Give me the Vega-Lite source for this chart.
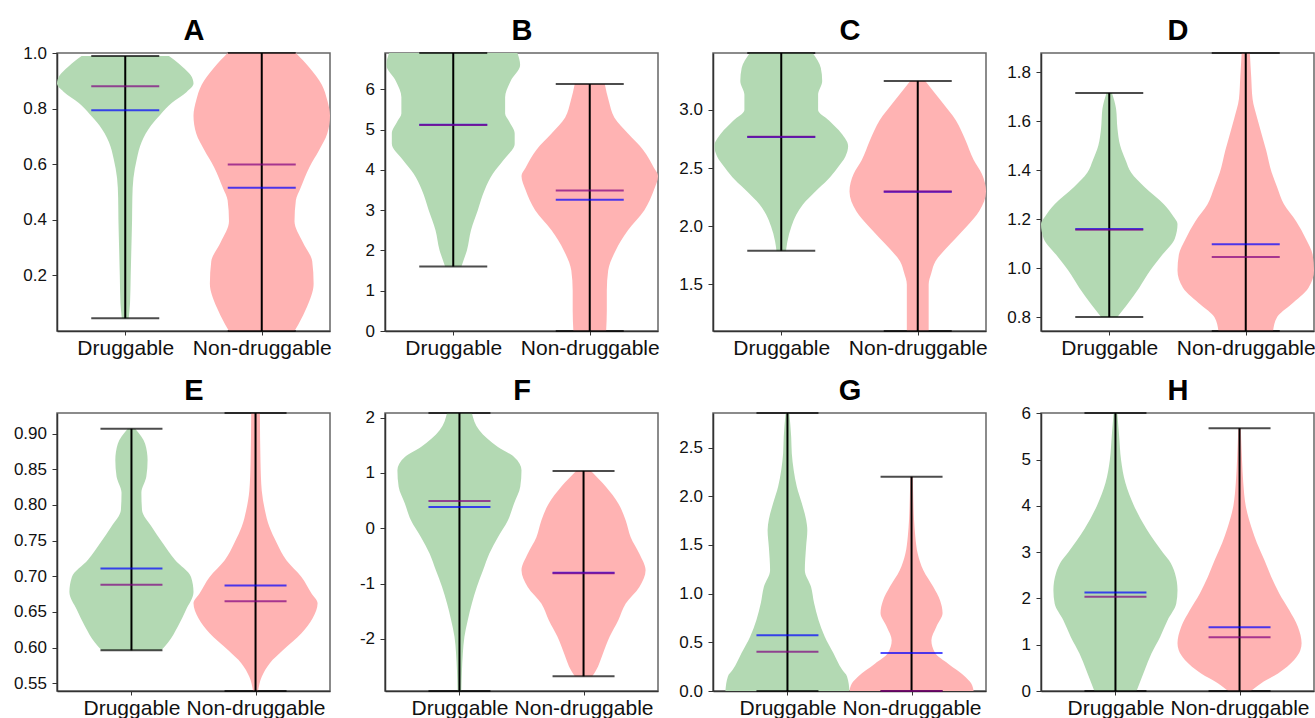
{
"$schema": "https://vega.github.io/schema/vega-lite/v6.json",
"background": "white",
"padding": {"left": 12, "top": 15, "right": 0, "bottom": 0},
"columns": 4,
"spacing": {"row": 82, "column": 55},
"bounds": "flush",
"datasets": {
"violins": [
{"p":"A","g":"Druggable","y":0.046,"lo":0.975,"hi":1.025},
{"p":"A","g":"Druggable","y":0.10,"lo":0.965,"hi":1.035},
{"p":"A","g":"Druggable","y":0.20,"lo":0.96,"hi":1.04},
{"p":"A","g":"Druggable","y":0.30,"lo":0.955,"hi":1.045},
{"p":"A","g":"Druggable","y":0.40,"lo":0.95,"hi":1.05},
{"p":"A","g":"Druggable","y":0.48,"lo":0.948,"hi":1.052},
{"p":"A","g":"Druggable","y":0.55,"lo":0.94,"hi":1.06},
{"p":"A","g":"Druggable","y":0.62,"lo":0.915,"hi":1.085},
{"p":"A","g":"Druggable","y":0.68,"lo":0.88,"hi":1.12},
{"p":"A","g":"Druggable","y":0.74,"lo":0.81,"hi":1.19},
{"p":"A","g":"Druggable","y":0.78,"lo":0.74,"hi":1.26},
{"p":"A","g":"Druggable","y":0.82,"lo":0.66,"hi":1.34},
{"p":"A","g":"Druggable","y":0.86,"lo":0.55,"hi":1.45},
{"p":"A","g":"Druggable","y":0.89,"lo":0.50,"hi":1.50},
{"p":"A","g":"Druggable","y":0.92,"lo":0.52,"hi":1.48},
{"p":"A","g":"Druggable","y":0.95,"lo":0.58,"hi":1.42},
{"p":"A","g":"Druggable","y":0.975,"lo":0.64,"hi":1.36},
{"p":"A","g":"Druggable","y":0.989,"lo":0.68,"hi":1.32},
{"p":"A","g":"Non-druggable","y":0.0,"lo":1.76,"hi":2.24},
{"p":"A","g":"Non-druggable","y":0.025,"lo":1.73,"hi":2.27},
{"p":"A","g":"Non-druggable","y":0.085,"lo":1.67,"hi":2.33},
{"p":"A","g":"Non-druggable","y":0.17,"lo":1.62,"hi":2.38},
{"p":"A","g":"Non-druggable","y":0.25,"lo":1.63,"hi":2.37},
{"p":"A","g":"Non-druggable","y":0.32,"lo":1.70,"hi":2.30},
{"p":"A","g":"Non-druggable","y":0.395,"lo":1.76,"hi":2.24},
{"p":"A","g":"Non-druggable","y":0.47,"lo":1.75,"hi":2.25},
{"p":"A","g":"Non-druggable","y":0.515,"lo":1.715,"hi":2.285},
{"p":"A","g":"Non-druggable","y":0.59,"lo":1.65,"hi":2.35},
{"p":"A","g":"Non-druggable","y":0.65,"lo":1.58,"hi":2.42},
{"p":"A","g":"Non-druggable","y":0.71,"lo":1.52,"hi":2.48},
{"p":"A","g":"Non-druggable","y":0.775,"lo":1.50,"hi":2.50},
{"p":"A","g":"Non-druggable","y":0.83,"lo":1.52,"hi":2.48},
{"p":"A","g":"Non-druggable","y":0.886,"lo":1.56,"hi":2.44},
{"p":"A","g":"Non-druggable","y":0.947,"lo":1.65,"hi":2.35},
{"p":"A","g":"Non-druggable","y":1.0,"lo":1.75,"hi":2.25},
{"p":"B","g":"Druggable","y":1.6,"lo":0.94,"hi":1.06},
{"p":"B","g":"Druggable","y":1.75,"lo":0.925,"hi":1.075},
{"p":"B","g":"Druggable","y":2.0,"lo":0.90,"hi":1.10},
{"p":"B","g":"Druggable","y":2.5,"lo":0.87,"hi":1.13},
{"p":"B","g":"Druggable","y":3.0,"lo":0.82,"hi":1.18},
{"p":"B","g":"Druggable","y":3.5,"lo":0.77,"hi":1.23},
{"p":"B","g":"Druggable","y":3.9,"lo":0.71,"hi":1.29},
{"p":"B","g":"Druggable","y":4.25,"lo":0.63,"hi":1.37},
{"p":"B","g":"Druggable","y":4.65,"lo":0.55,"hi":1.45},
{"p":"B","g":"Druggable","y":4.9,"lo":0.55,"hi":1.45},
{"p":"B","g":"Druggable","y":5.2,"lo":0.59,"hi":1.41},
{"p":"B","g":"Druggable","y":5.4,"lo":0.62,"hi":1.38},
{"p":"B","g":"Druggable","y":5.8,"lo":0.62,"hi":1.38},
{"p":"B","g":"Druggable","y":6.2,"lo":0.58,"hi":1.42},
{"p":"B","g":"Druggable","y":6.6,"lo":0.51,"hi":1.49},
{"p":"B","g":"Druggable","y":6.9,"lo":0.53,"hi":1.47},
{"p":"B","g":"Non-druggable","y":0.0,"lo":1.88,"hi":2.12},
{"p":"B","g":"Non-druggable","y":0.5,"lo":1.875,"hi":2.125},
{"p":"B","g":"Non-druggable","y":1.0,"lo":1.875,"hi":2.125},
{"p":"B","g":"Non-druggable","y":1.5,"lo":1.865,"hi":2.135},
{"p":"B","g":"Non-druggable","y":2.0,"lo":1.81,"hi":2.19},
{"p":"B","g":"Non-druggable","y":2.5,"lo":1.72,"hi":2.28},
{"p":"B","g":"Non-druggable","y":3.0,"lo":1.60,"hi":2.40},
{"p":"B","g":"Non-druggable","y":3.5,"lo":1.53,"hi":2.47},
{"p":"B","g":"Non-druggable","y":3.85,"lo":1.50,"hi":2.50},
{"p":"B","g":"Non-druggable","y":4.05,"lo":1.53,"hi":2.47},
{"p":"B","g":"Non-druggable","y":4.5,"lo":1.61,"hi":2.39},
{"p":"B","g":"Non-druggable","y":4.9,"lo":1.72,"hi":2.28},
{"p":"B","g":"Non-druggable","y":5.3,"lo":1.82,"hi":2.18},
{"p":"B","g":"Non-druggable","y":5.7,"lo":1.86,"hi":2.14},
{"p":"B","g":"Non-druggable","y":6.13,"lo":1.89,"hi":2.11},
{"p":"C","g":"Druggable","y":1.79,"lo":0.965,"hi":1.035},
{"p":"C","g":"Druggable","y":1.87,"lo":0.955,"hi":1.045},
{"p":"C","g":"Druggable","y":2.0,"lo":0.925,"hi":1.075},
{"p":"C","g":"Druggable","y":2.1,"lo":0.89,"hi":1.11},
{"p":"C","g":"Druggable","y":2.19,"lo":0.84,"hi":1.16},
{"p":"C","g":"Druggable","y":2.3,"lo":0.75,"hi":1.25},
{"p":"C","g":"Druggable","y":2.4,"lo":0.66,"hi":1.34},
{"p":"C","g":"Druggable","y":2.5,"lo":0.59,"hi":1.41},
{"p":"C","g":"Druggable","y":2.6,"lo":0.53,"hi":1.47},
{"p":"C","g":"Druggable","y":2.69,"lo":0.51,"hi":1.49},
{"p":"C","g":"Druggable","y":2.8,"lo":0.56,"hi":1.44},
{"p":"C","g":"Druggable","y":2.91,"lo":0.65,"hi":1.35},
{"p":"C","g":"Druggable","y":3.0,"lo":0.73,"hi":1.27},
{"p":"C","g":"Druggable","y":3.13,"lo":0.73,"hi":1.27},
{"p":"C","g":"Druggable","y":3.25,"lo":0.70,"hi":1.30},
{"p":"C","g":"Druggable","y":3.36,"lo":0.71,"hi":1.29},
{"p":"C","g":"Druggable","y":3.49,"lo":0.77,"hi":1.23},
{"p":"C","g":"Non-druggable","y":1.1,"lo":1.92,"hi":2.08},
{"p":"C","g":"Non-druggable","y":1.3,"lo":1.92,"hi":2.08},
{"p":"C","g":"Non-druggable","y":1.5,"lo":1.92,"hi":2.08},
{"p":"C","g":"Non-druggable","y":1.6,"lo":1.90,"hi":2.10},
{"p":"C","g":"Non-druggable","y":1.7,"lo":1.87,"hi":2.13},
{"p":"C","g":"Non-druggable","y":1.8,"lo":1.80,"hi":2.20},
{"p":"C","g":"Non-druggable","y":1.9,"lo":1.72,"hi":2.28},
{"p":"C","g":"Non-druggable","y":2.0,"lo":1.64,"hi":2.36},
{"p":"C","g":"Non-druggable","y":2.13,"lo":1.55,"hi":2.45},
{"p":"C","g":"Non-druggable","y":2.3,"lo":1.50,"hi":2.50},
{"p":"C","g":"Non-druggable","y":2.45,"lo":1.53,"hi":2.47},
{"p":"C","g":"Non-druggable","y":2.57,"lo":1.59,"hi":2.41},
{"p":"C","g":"Non-druggable","y":2.74,"lo":1.65,"hi":2.35},
{"p":"C","g":"Non-druggable","y":2.91,"lo":1.72,"hi":2.28},
{"p":"C","g":"Non-druggable","y":3.08,"lo":1.83,"hi":2.17},
{"p":"C","g":"Non-druggable","y":3.25,"lo":1.945,"hi":2.055},
{"p":"D","g":"Druggable","y":0.80,"lo":0.94,"hi":1.06},
{"p":"D","g":"Druggable","y":0.85,"lo":0.87,"hi":1.13},
{"p":"D","g":"Druggable","y":0.92,"lo":0.78,"hi":1.22},
{"p":"D","g":"Druggable","y":0.99,"lo":0.70,"hi":1.30},
{"p":"D","g":"Druggable","y":1.055,"lo":0.61,"hi":1.39},
{"p":"D","g":"Druggable","y":1.12,"lo":0.52,"hi":1.48},
{"p":"D","g":"Druggable","y":1.18,"lo":0.50,"hi":1.50},
{"p":"D","g":"Druggable","y":1.21,"lo":0.53,"hi":1.47},
{"p":"D","g":"Druggable","y":1.26,"lo":0.60,"hi":1.40},
{"p":"D","g":"Druggable","y":1.33,"lo":0.74,"hi":1.26},
{"p":"D","g":"Druggable","y":1.39,"lo":0.84,"hi":1.16},
{"p":"D","g":"Druggable","y":1.44,"lo":0.88,"hi":1.12},
{"p":"D","g":"Druggable","y":1.5,"lo":0.92,"hi":1.08},
{"p":"D","g":"Druggable","y":1.57,"lo":0.94,"hi":1.06},
{"p":"D","g":"Druggable","y":1.65,"lo":0.95,"hi":1.05},
{"p":"D","g":"Druggable","y":1.715,"lo":0.98,"hi":1.02},
{"p":"D","g":"Non-druggable","y":0.743,"lo":1.80,"hi":2.20},
{"p":"D","g":"Non-druggable","y":0.80,"lo":1.77,"hi":2.23},
{"p":"D","g":"Non-druggable","y":0.85,"lo":1.67,"hi":2.33},
{"p":"D","g":"Non-druggable","y":0.92,"lo":1.54,"hi":2.46},
{"p":"D","g":"Non-druggable","y":0.99,"lo":1.50,"hi":2.50},
{"p":"D","g":"Non-druggable","y":1.055,"lo":1.51,"hi":2.49},
{"p":"D","g":"Non-druggable","y":1.12,"lo":1.56,"hi":2.44},
{"p":"D","g":"Non-druggable","y":1.19,"lo":1.63,"hi":2.37},
{"p":"D","g":"Non-druggable","y":1.26,"lo":1.72,"hi":2.28},
{"p":"D","g":"Non-druggable","y":1.33,"lo":1.77,"hi":2.23},
{"p":"D","g":"Non-druggable","y":1.39,"lo":1.81,"hi":2.19},
{"p":"D","g":"Non-druggable","y":1.48,"lo":1.85,"hi":2.15},
{"p":"D","g":"Non-druggable","y":1.61,"lo":1.915,"hi":2.085},
{"p":"D","g":"Non-druggable","y":1.69,"lo":1.95,"hi":2.05},
{"p":"D","g":"Non-druggable","y":1.78,"lo":1.96,"hi":2.04},
{"p":"D","g":"Non-druggable","y":1.878,"lo":1.97,"hi":2.03},
{"p":"E","g":"Druggable","y":0.596,"lo":0.76,"hi":1.24},
{"p":"E","g":"Druggable","y":0.607,"lo":0.705,"hi":1.295},
{"p":"E","g":"Druggable","y":0.63,"lo":0.625,"hi":1.375},
{"p":"E","g":"Druggable","y":0.653,"lo":0.56,"hi":1.44},
{"p":"E","g":"Druggable","y":0.678,"lo":0.50,"hi":1.50},
{"p":"E","g":"Druggable","y":0.699,"lo":0.52,"hi":1.48},
{"p":"E","g":"Druggable","y":0.723,"lo":0.65,"hi":1.35},
{"p":"E","g":"Druggable","y":0.747,"lo":0.75,"hi":1.25},
{"p":"E","g":"Druggable","y":0.77,"lo":0.84,"hi":1.16},
{"p":"E","g":"Druggable","y":0.793,"lo":0.915,"hi":1.085},
{"p":"E","g":"Druggable","y":0.817,"lo":0.92,"hi":1.08},
{"p":"E","g":"Druggable","y":0.84,"lo":0.88,"hi":1.12},
{"p":"E","g":"Druggable","y":0.863,"lo":0.87,"hi":1.13},
{"p":"E","g":"Druggable","y":0.886,"lo":0.89,"hi":1.11},
{"p":"E","g":"Druggable","y":0.907,"lo":0.97,"hi":1.03},
{"p":"E","g":"Non-druggable","y":0.539,"lo":1.98,"hi":2.02},
{"p":"E","g":"Non-druggable","y":0.559,"lo":1.95,"hi":2.05},
{"p":"E","g":"Non-druggable","y":0.578,"lo":1.885,"hi":2.115},
{"p":"E","g":"Non-druggable","y":0.596,"lo":1.78,"hi":2.22},
{"p":"E","g":"Non-druggable","y":0.62,"lo":1.63,"hi":2.37},
{"p":"E","g":"Non-druggable","y":0.641,"lo":1.54,"hi":2.46},
{"p":"E","g":"Non-druggable","y":0.662,"lo":1.50,"hi":2.50},
{"p":"E","g":"Non-druggable","y":0.676,"lo":1.55,"hi":2.45},
{"p":"E","g":"Non-druggable","y":0.699,"lo":1.63,"hi":2.37},
{"p":"E","g":"Non-druggable","y":0.722,"lo":1.75,"hi":2.25},
{"p":"E","g":"Non-druggable","y":0.747,"lo":1.83,"hi":2.17},
{"p":"E","g":"Non-druggable","y":0.77,"lo":1.89,"hi":2.11},
{"p":"E","g":"Non-druggable","y":0.793,"lo":1.925,"hi":2.075},
{"p":"E","g":"Non-druggable","y":0.82,"lo":1.95,"hi":2.05},
{"p":"E","g":"Non-druggable","y":0.86,"lo":1.96,"hi":2.04},
{"p":"E","g":"Non-druggable","y":0.929,"lo":1.965,"hi":2.035},
{"p":"F","g":"Druggable","y":-2.94,"lo":0.985,"hi":1.015},
{"p":"F","g":"Druggable","y":-2.57,"lo":0.98,"hi":1.02},
{"p":"F","g":"Druggable","y":-2.27,"lo":0.973,"hi":1.027},
{"p":"F","g":"Druggable","y":-1.96,"lo":0.96,"hi":1.04},
{"p":"F","g":"Druggable","y":-1.66,"lo":0.933,"hi":1.067},
{"p":"F","g":"Druggable","y":-1.36,"lo":0.90,"hi":1.10},
{"p":"F","g":"Druggable","y":-1.06,"lo":0.86,"hi":1.14},
{"p":"F","g":"Druggable","y":-0.76,"lo":0.81,"hi":1.19},
{"p":"F","g":"Druggable","y":-0.46,"lo":0.76,"hi":1.24},
{"p":"F","g":"Druggable","y":-0.16,"lo":0.69,"hi":1.31},
{"p":"F","g":"Druggable","y":0.14,"lo":0.61,"hi":1.39},
{"p":"F","g":"Druggable","y":0.45,"lo":0.56,"hi":1.44},
{"p":"F","g":"Druggable","y":0.75,"lo":0.51,"hi":1.49},
{"p":"F","g":"Druggable","y":1.05,"lo":0.50,"hi":1.50},
{"p":"F","g":"Druggable","y":1.29,"lo":0.56,"hi":1.44},
{"p":"F","g":"Druggable","y":1.47,"lo":0.69,"hi":1.31},
{"p":"F","g":"Druggable","y":1.77,"lo":0.84,"hi":1.16},
{"p":"F","g":"Druggable","y":2.083,"lo":0.90,"hi":1.10},
{"p":"F","g":"Non-druggable","y":-2.675,"lo":1.93,"hi":2.07},
{"p":"F","g":"Non-druggable","y":-2.57,"lo":1.90,"hi":2.10},
{"p":"F","g":"Non-druggable","y":-2.27,"lo":1.845,"hi":2.155},
{"p":"F","g":"Non-druggable","y":-1.96,"lo":1.79,"hi":2.21},
{"p":"F","g":"Non-druggable","y":-1.66,"lo":1.72,"hi":2.28},
{"p":"F","g":"Non-druggable","y":-1.36,"lo":1.66,"hi":2.34},
{"p":"F","g":"Non-druggable","y":-1.06,"lo":1.55,"hi":2.45},
{"p":"F","g":"Non-druggable","y":-0.76,"lo":1.50,"hi":2.50},
{"p":"F","g":"Non-druggable","y":-0.46,"lo":1.55,"hi":2.45},
{"p":"F","g":"Non-druggable","y":-0.16,"lo":1.62,"hi":2.38},
{"p":"F","g":"Non-druggable","y":0.14,"lo":1.66,"hi":2.34},
{"p":"F","g":"Non-druggable","y":0.45,"lo":1.72,"hi":2.28},
{"p":"F","g":"Non-druggable","y":0.75,"lo":1.82,"hi":2.18},
{"p":"F","g":"Non-druggable","y":1.036,"lo":1.94,"hi":2.06},
{"p":"G","g":"Druggable","y":0.0,"lo":0.50,"hi":1.50},
{"p":"G","g":"Druggable","y":0.15,"lo":0.52,"hi":1.48},
{"p":"G","g":"Druggable","y":0.22,"lo":0.56,"hi":1.44},
{"p":"G","g":"Druggable","y":0.39,"lo":0.63,"hi":1.37},
{"p":"G","g":"Druggable","y":0.56,"lo":0.70,"hi":1.30},
{"p":"G","g":"Druggable","y":0.73,"lo":0.75,"hi":1.25},
{"p":"G","g":"Druggable","y":0.90,"lo":0.785,"hi":1.215},
{"p":"G","g":"Druggable","y":1.07,"lo":0.81,"hi":1.19},
{"p":"G","g":"Druggable","y":1.24,"lo":0.86,"hi":1.14},
{"p":"G","g":"Druggable","y":1.48,"lo":0.85,"hi":1.15},
{"p":"G","g":"Druggable","y":1.65,"lo":0.84,"hi":1.16},
{"p":"G","g":"Druggable","y":1.76,"lo":0.85,"hi":1.15},
{"p":"G","g":"Druggable","y":1.93,"lo":0.885,"hi":1.115},
{"p":"G","g":"Druggable","y":2.10,"lo":0.925,"hi":1.075},
{"p":"G","g":"Druggable","y":2.27,"lo":0.95,"hi":1.05},
{"p":"G","g":"Druggable","y":2.44,"lo":0.965,"hi":1.035},
{"p":"G","g":"Druggable","y":2.61,"lo":0.97,"hi":1.03},
{"p":"G","g":"Druggable","y":2.855,"lo":0.985,"hi":1.015},
{"p":"G","g":"Non-druggable","y":0.0,"lo":1.50,"hi":2.50},
{"p":"G","g":"Non-druggable","y":0.08,"lo":1.52,"hi":2.48},
{"p":"G","g":"Non-druggable","y":0.15,"lo":1.57,"hi":2.43},
{"p":"G","g":"Non-druggable","y":0.28,"lo":1.705,"hi":2.295},
{"p":"G","g":"Non-druggable","y":0.39,"lo":1.81,"hi":2.19},
{"p":"G","g":"Non-druggable","y":0.52,"lo":1.84,"hi":2.16},
{"p":"G","g":"Non-druggable","y":0.66,"lo":1.80,"hi":2.20},
{"p":"G","g":"Non-druggable","y":0.80,"lo":1.75,"hi":2.25},
{"p":"G","g":"Non-druggable","y":0.93,"lo":1.77,"hi":2.23},
{"p":"G","g":"Non-druggable","y":1.07,"lo":1.825,"hi":2.175},
{"p":"G","g":"Non-druggable","y":1.24,"lo":1.905,"hi":2.095},
{"p":"G","g":"Non-druggable","y":1.41,"lo":1.95,"hi":2.05},
{"p":"G","g":"Non-druggable","y":1.59,"lo":1.97,"hi":2.03},
{"p":"G","g":"Non-druggable","y":1.76,"lo":1.98,"hi":2.02},
{"p":"G","g":"Non-druggable","y":1.93,"lo":1.985,"hi":2.015},
{"p":"G","g":"Non-druggable","y":2.2,"lo":1.99,"hi":2.01},
{"p":"H","g":"Druggable","y":0.0,"lo":0.83,"hi":1.17},
{"p":"H","g":"Druggable","y":0.45,"lo":0.765,"hi":1.235},
{"p":"H","g":"Druggable","y":0.81,"lo":0.71,"hi":1.29},
{"p":"H","g":"Druggable","y":1.17,"lo":0.64,"hi":1.36},
{"p":"H","g":"Druggable","y":1.53,"lo":0.58,"hi":1.42},
{"p":"H","g":"Druggable","y":1.89,"lo":0.51,"hi":1.49},
{"p":"H","g":"Druggable","y":2.18,"lo":0.50,"hi":1.50},
{"p":"H","g":"Druggable","y":2.54,"lo":0.52,"hi":1.48},
{"p":"H","g":"Druggable","y":2.83,"lo":0.57,"hi":1.43},
{"p":"H","g":"Druggable","y":3.0,"lo":0.62,"hi":1.38},
{"p":"H","g":"Druggable","y":3.5,"lo":0.75,"hi":1.25},
{"p":"H","g":"Druggable","y":4.0,"lo":0.85,"hi":1.15},
{"p":"H","g":"Druggable","y":4.5,"lo":0.92,"hi":1.08},
{"p":"H","g":"Druggable","y":5.0,"lo":0.955,"hi":1.045},
{"p":"H","g":"Druggable","y":5.5,"lo":0.97,"hi":1.03},
{"p":"H","g":"Druggable","y":6.01,"lo":0.985,"hi":1.015},
{"p":"H","g":"Non-druggable","y":0.0,"lo":1.91,"hi":2.09},
{"p":"H","g":"Non-druggable","y":0.17,"lo":1.825,"hi":2.175},
{"p":"H","g":"Non-druggable","y":0.38,"lo":1.69,"hi":2.31},
{"p":"H","g":"Non-druggable","y":0.67,"lo":1.56,"hi":2.44},
{"p":"H","g":"Non-druggable","y":0.88,"lo":1.51,"hi":2.49},
{"p":"H","g":"Non-druggable","y":1.03,"lo":1.50,"hi":2.50},
{"p":"H","g":"Non-druggable","y":1.39,"lo":1.53,"hi":2.47},
{"p":"H","g":"Non-druggable","y":1.75,"lo":1.60,"hi":2.40},
{"p":"H","g":"Non-druggable","y":2.11,"lo":1.68,"hi":2.32},
{"p":"H","g":"Non-druggable","y":2.47,"lo":1.745,"hi":2.255},
{"p":"H","g":"Non-druggable","y":2.83,"lo":1.80,"hi":2.20},
{"p":"H","g":"Non-druggable","y":3.2,"lo":1.86,"hi":2.14},
{"p":"H","g":"Non-druggable","y":3.5,"lo":1.90,"hi":2.10},
{"p":"H","g":"Non-druggable","y":4.0,"lo":1.95,"hi":2.05},
{"p":"H","g":"Non-druggable","y":4.5,"lo":1.97,"hi":2.03},
{"p":"H","g":"Non-druggable","y":5.0,"lo":1.98,"hi":2.02},
{"p":"H","g":"Non-druggable","y":5.68,"lo":1.99,"hi":2.01}
],
"stats": [
{"p":"A","g":"Druggable","min":0.046,"max":0.989,"median":0.88,"mean":0.794},
{"p":"A","g":"Non-druggable","min":0.0,"max":1.0,"median":0.599,"mean":0.515},
{"p":"B","g":"Druggable","min":1.6,"max":6.9,"median":5.11,"mean":5.12},
{"p":"B","g":"Non-druggable","min":0.0,"max":6.13,"median":3.49,"mean":3.26},
{"p":"C","g":"Druggable","min":1.79,"max":3.49,"median":2.77,"mean":2.768},
{"p":"C","g":"Non-druggable","min":1.1,"max":3.25,"median":2.30,"mean":2.298},
{"p":"D","g":"Druggable","min":0.80,"max":1.715,"median":1.156,"mean":1.159},
{"p":"D","g":"Non-druggable","min":0.743,"max":1.878,"median":1.045,"mean":1.097},
{"p":"E","g":"Druggable","min":0.596,"max":0.907,"median":0.688,"mean":0.711},
{"p":"E","g":"Non-druggable","min":0.539,"max":0.929,"median":0.665,"mean":0.687},
{"p":"F","g":"Druggable","min":-2.94,"max":2.083,"median":0.494,"mean":0.386},
{"p":"F","g":"Non-druggable","min":-2.675,"max":1.036,"median":-0.813,"mean":-0.805},
{"p":"G","g":"Druggable","min":0.0,"max":2.855,"median":0.404,"mean":0.572},
{"p":"G","g":"Non-druggable","min":0.0,"max":2.2,"median":0.0,"mean":0.39},
{"p":"H","g":"Druggable","min":0.0,"max":6.01,"median":2.04,"mean":2.13},
{"p":"H","g":"Non-druggable","min":0.0,"max":5.68,"median":1.16,"mean":1.38}
]
},
"concat": [
{"width":273,"height":278,
"layer":[
{"data":{"name":"violins"},"transform":[{"filter":"datum.p=='A'"}],"mark":{"type":"area","orient":"horizontal","interpolate":"monotone"},
"encoding":{"y":{"field":"y","type":"quantitative","scale":{"domain":[0,1.0],"nice":false,"zero":false},"axis":{"values":[0.2,0.4,0.6,0.8,1.0],"format":".1f","tickCount":20}},
"x":{"field":"lo","type":"quantitative","scale":{"domain":[0.5,2.5],"nice":false,"zero":false},"axis":{"orient":"top","title":"A"}},"x2":{"field":"hi"},
"color":{"field":"g","type":"nominal","scale":{"domain":["Druggable","Non-druggable"],"range":["#b3d9b3","#ffb3b3"]},"legend":null}}},
{"data":{"name":"stats"},"transform":[{"filter":"datum.p=='A'"}],"mark":{"type":"rule","color":"black","strokeWidth":2},
"encoding":{"x":{"field":"g","type":"nominal","scale":{"type":"point","padding":0.5},"axis":{}},"y":{"field":"min","type":"quantitative"},"y2":{"field":"max"}}},
{"data":{"name":"stats"},"transform":[{"filter":"datum.p=='A'"},{"fold":["min","max","mean","median"],"as":["stat","v"]}],"mark":{"type":"tick","orient":"horizontal","size":68,"thickness":2},
"encoding":{"x":{"field":"g","type":"nominal","scale":{"type":"point","padding":0.5},"axis":null},"y":{"field":"v","type":"quantitative"},
"color":{"field":"stat","type":"nominal","scale":{"domain":["min","max","mean","median"],"range":["black","black","blue","purple"]},"legend":null}}}
],"resolve":{"scale":{"x":"independent","color":"independent"}}},
{"width":273,"height":278,
"layer":[
{"data":{"name":"violins"},"transform":[{"filter":"datum.p=='B'"}],"mark":{"type":"area","orient":"horizontal","interpolate":"monotone"},
"encoding":{"y":{"field":"y","type":"quantitative","scale":{"domain":[0,6.9],"nice":false,"zero":false},"axis":{"values":[0,1,2,3,4,5,6],"format":"d","tickCount":20}},
"x":{"field":"lo","type":"quantitative","scale":{"domain":[0.5,2.5],"nice":false,"zero":false},"axis":{"orient":"top","title":"B"}},"x2":{"field":"hi"},
"color":{"field":"g","type":"nominal","scale":{"domain":["Druggable","Non-druggable"],"range":["#b3d9b3","#ffb3b3"]},"legend":null}}},
{"data":{"name":"stats"},"transform":[{"filter":"datum.p=='B'"}],"mark":{"type":"rule","color":"black","strokeWidth":2},
"encoding":{"x":{"field":"g","type":"nominal","scale":{"type":"point","padding":0.5},"axis":{}},"y":{"field":"min","type":"quantitative"},"y2":{"field":"max"}}},
{"data":{"name":"stats"},"transform":[{"filter":"datum.p=='B'"},{"fold":["min","max","mean","median"],"as":["stat","v"]}],"mark":{"type":"tick","orient":"horizontal","size":68,"thickness":2},
"encoding":{"x":{"field":"g","type":"nominal","scale":{"type":"point","padding":0.5},"axis":null},"y":{"field":"v","type":"quantitative"},
"color":{"field":"stat","type":"nominal","scale":{"domain":["min","max","mean","median"],"range":["black","black","blue","purple"]},"legend":null}}}
],"resolve":{"scale":{"x":"independent","color":"independent"}}},
{"width":273,"height":278,
"layer":[
{"data":{"name":"violins"},"transform":[{"filter":"datum.p=='C'"}],"mark":{"type":"area","orient":"horizontal","interpolate":"monotone"},
"encoding":{"y":{"field":"y","type":"quantitative","scale":{"domain":[1.1,3.49],"nice":false,"zero":false},"axis":{"values":[1.5,2.0,2.5,3.0],"format":".1f","tickCount":20}},
"x":{"field":"lo","type":"quantitative","scale":{"domain":[0.5,2.5],"nice":false,"zero":false},"axis":{"orient":"top","title":"C"}},"x2":{"field":"hi"},
"color":{"field":"g","type":"nominal","scale":{"domain":["Druggable","Non-druggable"],"range":["#b3d9b3","#ffb3b3"]},"legend":null}}},
{"data":{"name":"stats"},"transform":[{"filter":"datum.p=='C'"}],"mark":{"type":"rule","color":"black","strokeWidth":2},
"encoding":{"x":{"field":"g","type":"nominal","scale":{"type":"point","padding":0.5},"axis":{}},"y":{"field":"min","type":"quantitative"},"y2":{"field":"max"}}},
{"data":{"name":"stats"},"transform":[{"filter":"datum.p=='C'"},{"fold":["min","max","mean","median"],"as":["stat","v"]}],"mark":{"type":"tick","orient":"horizontal","size":68,"thickness":2},
"encoding":{"x":{"field":"g","type":"nominal","scale":{"type":"point","padding":0.5},"axis":null},"y":{"field":"v","type":"quantitative"},
"color":{"field":"stat","type":"nominal","scale":{"domain":["min","max","mean","median"],"range":["black","black","blue","purple"]},"legend":null}}}
],"resolve":{"scale":{"x":"independent","color":"independent"}}},
{"width":273,"height":278,
"layer":[
{"data":{"name":"violins"},"transform":[{"filter":"datum.p=='D'"}],"mark":{"type":"area","orient":"horizontal","interpolate":"monotone"},
"encoding":{"y":{"field":"y","type":"quantitative","scale":{"domain":[0.743,1.878],"nice":false,"zero":false},"axis":{"values":[0.8,1.0,1.2,1.4,1.6,1.8],"format":".1f","tickCount":20}},
"x":{"field":"lo","type":"quantitative","scale":{"domain":[0.5,2.5],"nice":false,"zero":false},"axis":{"orient":"top","title":"D"}},"x2":{"field":"hi"},
"color":{"field":"g","type":"nominal","scale":{"domain":["Druggable","Non-druggable"],"range":["#b3d9b3","#ffb3b3"]},"legend":null}}},
{"data":{"name":"stats"},"transform":[{"filter":"datum.p=='D'"}],"mark":{"type":"rule","color":"black","strokeWidth":2},
"encoding":{"x":{"field":"g","type":"nominal","scale":{"type":"point","padding":0.5},"axis":{}},"y":{"field":"min","type":"quantitative"},"y2":{"field":"max"}}},
{"data":{"name":"stats"},"transform":[{"filter":"datum.p=='D'"},{"fold":["min","max","mean","median"],"as":["stat","v"]}],"mark":{"type":"tick","orient":"horizontal","size":68,"thickness":2},
"encoding":{"x":{"field":"g","type":"nominal","scale":{"type":"point","padding":0.5},"axis":null},"y":{"field":"v","type":"quantitative"},
"color":{"field":"stat","type":"nominal","scale":{"domain":["min","max","mean","median"],"range":["black","black","blue","purple"]},"legend":null}}}
],"resolve":{"scale":{"x":"independent","color":"independent"}}},
{"width":273,"height":278,
"layer":[
{"data":{"name":"violins"},"transform":[{"filter":"datum.p=='E'"}],"mark":{"type":"area","orient":"horizontal","interpolate":"monotone"},
"encoding":{"y":{"field":"y","type":"quantitative","scale":{"domain":[0.539,0.929],"nice":false,"zero":false},"axis":{"values":[0.55,0.6,0.65,0.7,0.75,0.8,0.85,0.9],"format":".2f","tickCount":20}},
"x":{"field":"lo","type":"quantitative","scale":{"domain":[0.4,2.6],"nice":false,"zero":false},"axis":{"orient":"top","title":"E"}},"x2":{"field":"hi"},
"color":{"field":"g","type":"nominal","scale":{"domain":["Druggable","Non-druggable"],"range":["#b3d9b3","#ffb3b3"]},"legend":null}}},
{"data":{"name":"stats"},"transform":[{"filter":"datum.p=='E'"}],"mark":{"type":"rule","color":"black","strokeWidth":2},
"encoding":{"x":{"field":"g","type":"nominal","scale":{"type":"point","padding":0.6},"axis":{}},"y":{"field":"min","type":"quantitative"},"y2":{"field":"max"}}},
{"data":{"name":"stats"},"transform":[{"filter":"datum.p=='E'"},{"fold":["min","max","mean","median"],"as":["stat","v"]}],"mark":{"type":"tick","orient":"horizontal","size":62,"thickness":2},
"encoding":{"x":{"field":"g","type":"nominal","scale":{"type":"point","padding":0.6},"axis":null},"y":{"field":"v","type":"quantitative"},
"color":{"field":"stat","type":"nominal","scale":{"domain":["min","max","mean","median"],"range":["black","black","blue","purple"]},"legend":null}}}
],"resolve":{"scale":{"x":"independent","color":"independent"}}},
{"width":273,"height":278,
"layer":[
{"data":{"name":"violins"},"transform":[{"filter":"datum.p=='F'"}],"mark":{"type":"area","orient":"horizontal","interpolate":"monotone"},
"encoding":{"y":{"field":"y","type":"quantitative","scale":{"domain":[-2.94,2.083],"nice":false,"zero":false},"axis":{"values":[-2,-1,0,1,2],"format":"d","tickCount":20,"labelExpr":"replace(datum.label, '\u2212', '-')"}},
"x":{"field":"lo","type":"quantitative","scale":{"domain":[0.4,2.6],"nice":false,"zero":false},"axis":{"orient":"top","title":"F"}},"x2":{"field":"hi"},
"color":{"field":"g","type":"nominal","scale":{"domain":["Druggable","Non-druggable"],"range":["#b3d9b3","#ffb3b3"]},"legend":null}}},
{"data":{"name":"stats"},"transform":[{"filter":"datum.p=='F'"}],"mark":{"type":"rule","color":"black","strokeWidth":2},
"encoding":{"x":{"field":"g","type":"nominal","scale":{"type":"point","padding":0.6},"axis":{}},"y":{"field":"min","type":"quantitative"},"y2":{"field":"max"}}},
{"data":{"name":"stats"},"transform":[{"filter":"datum.p=='F'"},{"fold":["min","max","mean","median"],"as":["stat","v"]}],"mark":{"type":"tick","orient":"horizontal","size":62,"thickness":2},
"encoding":{"x":{"field":"g","type":"nominal","scale":{"type":"point","padding":0.6},"axis":null},"y":{"field":"v","type":"quantitative"},
"color":{"field":"stat","type":"nominal","scale":{"domain":["min","max","mean","median"],"range":["black","black","blue","purple"]},"legend":null}}}
],"resolve":{"scale":{"x":"independent","color":"independent"}}},
{"width":273,"height":278,
"layer":[
{"data":{"name":"violins"},"transform":[{"filter":"datum.p=='G'"}],"mark":{"type":"area","orient":"horizontal","interpolate":"monotone"},
"encoding":{"y":{"field":"y","type":"quantitative","scale":{"domain":[0,2.855],"nice":false,"zero":false},"axis":{"values":[0,0.5,1,1.5,2,2.5],"format":".1f","tickCount":20}},
"x":{"field":"lo","type":"quantitative","scale":{"domain":[0.4,2.6],"nice":false,"zero":false},"axis":{"orient":"top","title":"G"}},"x2":{"field":"hi"},
"color":{"field":"g","type":"nominal","scale":{"domain":["Druggable","Non-druggable"],"range":["#b3d9b3","#ffb3b3"]},"legend":null}}},
{"data":{"name":"stats"},"transform":[{"filter":"datum.p=='G'"}],"mark":{"type":"rule","color":"black","strokeWidth":2},
"encoding":{"x":{"field":"g","type":"nominal","scale":{"type":"point","padding":0.6},"axis":{}},"y":{"field":"min","type":"quantitative"},"y2":{"field":"max"}}},
{"data":{"name":"stats"},"transform":[{"filter":"datum.p=='G'"},{"fold":["min","max","mean","median"],"as":["stat","v"]}],"mark":{"type":"tick","orient":"horizontal","size":62,"thickness":2},
"encoding":{"x":{"field":"g","type":"nominal","scale":{"type":"point","padding":0.6},"axis":null},"y":{"field":"v","type":"quantitative"},
"color":{"field":"stat","type":"nominal","scale":{"domain":["min","max","mean","median"],"range":["black","black","blue","purple"]},"legend":null}}}
],"resolve":{"scale":{"x":"independent","color":"independent"}}},
{"width":273,"height":278,
"layer":[
{"data":{"name":"violins"},"transform":[{"filter":"datum.p=='H'"}],"mark":{"type":"area","orient":"horizontal","interpolate":"monotone"},
"encoding":{"y":{"field":"y","type":"quantitative","scale":{"domain":[0,6.01],"nice":false,"zero":false},"axis":{"values":[0,1,2,3,4,5,6],"format":"d","tickCount":20}},
"x":{"field":"lo","type":"quantitative","scale":{"domain":[0.4,2.6],"nice":false,"zero":false},"axis":{"orient":"top","title":"H"}},"x2":{"field":"hi"},
"color":{"field":"g","type":"nominal","scale":{"domain":["Druggable","Non-druggable"],"range":["#b3d9b3","#ffb3b3"]},"legend":null}}},
{"data":{"name":"stats"},"transform":[{"filter":"datum.p=='H'"}],"mark":{"type":"rule","color":"black","strokeWidth":2},
"encoding":{"x":{"field":"g","type":"nominal","scale":{"type":"point","padding":0.6},"axis":{}},"y":{"field":"min","type":"quantitative"},"y2":{"field":"max"}}},
{"data":{"name":"stats"},"transform":[{"filter":"datum.p=='H'"},{"fold":["min","max","mean","median"],"as":["stat","v"]}],"mark":{"type":"tick","orient":"horizontal","size":62,"thickness":2},
"encoding":{"x":{"field":"g","type":"nominal","scale":{"type":"point","padding":0.6},"axis":null},"y":{"field":"v","type":"quantitative"},
"color":{"field":"stat","type":"nominal","scale":{"domain":["min","max","mean","median"],"range":["black","black","blue","purple"]},"legend":null}}}
],"resolve":{"scale":{"x":"independent","color":"independent"}}}
],
"config": {
"font": "Liberation Sans",
"view": {"stroke": "#666666", "strokeWidth": 1.5},
"axis": {"labelFont": "Liberation Sans", "labelColor": "#111111", "domainColor": "#333333", "domainWidth": 1.5, "tickColor": "#333333", "grid": false, "title": null, "labelFontSize": 17, "tickSize": 5, "labelPadding": 5.5},
"axisY": {"labelOverlap": false},
"axisX": {"labelFontSize": 21, "labelAngle": 0, "tickSize": 4, "labelPadding": 2},
"axisTop": {"labels": false, "ticks": false, "domain": false, "titleFont": "Liberation Sans", "titleFontSize": 29, "titleFontWeight": "bold", "titleColor": "#000000", "titlePadding": 14, "titleBaseline": "alphabetic"}
}
}
